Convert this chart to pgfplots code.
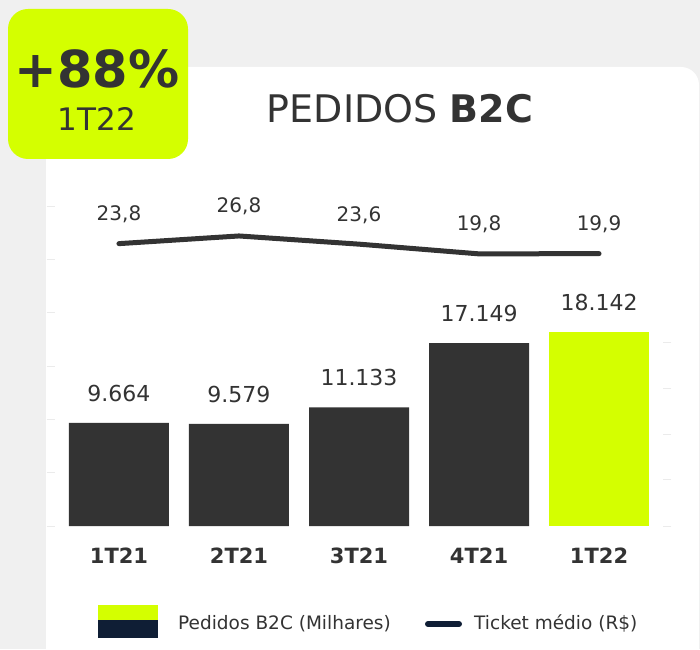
\documentclass[border=0pt]{standalone}
\usepackage{fontspec}
\setmainfont{DejaVu Sans}
\usepackage{pgfplots}
\pgfplotsset{compat=1.18}
\definecolor{lime}{HTML}{D4FF00}
\definecolor{dark}{HTML}{333333}
\definecolor{navy}{HTML}{0F1E35}
\definecolor{bg}{HTML}{F0F0F0}
\definecolor{stub}{HTML}{EBEBEB}
\begin{document}
\begin{tikzpicture}
\useasboundingbox (0pt,0pt) rectangle (700pt,649pt);
\begin{scope}[x=1pt,y=1pt]
\fill[bg] (0,0) rectangle (700,649);
\fill[white, rounded corners=18pt] (46,-30) rectangle (699,582);
% badge
\fill[lime, rounded corners=20pt] (8,490) rectangle (188,640);
\node[anchor=base, inner sep=0pt, text=dark, font=\fontsize{51}{51}\selectfont\bfseries] at (97,561) {+88\%};
\node[anchor=base, inner sep=0pt, text=dark, font=\fontsize{31}{31}\selectfont] at (97,518) {1T22};
% title
\node[anchor=base, inner sep=0pt, text=dark, font=\fontsize{38}{38}\selectfont] at (400,526) {PEDIDOS \textbf{B2C}};
\end{scope}

\begin{axis}[
  at={(55pt,123pt)}, anchor=south west, scale only axis,
  width=608pt, height=320pt,
  xmin=-0.533, xmax=4.533, ymin=0, ymax=30000,
  axis line style={draw=none},
  scaled y ticks=false,
  ytick={0,5000,...,30000}, yticklabels={}, ytick pos=left,
  y tick style={draw=stub, line width=1pt},
  tick align=outside, major tick length=8pt,
  xtick={0,1,2,3,4}, xticklabels={1T21,2T21,3T21,4T21,1T22},
  x tick style={draw=none},
  xticklabel style={font=\fontsize{21}{21}\selectfont\bfseries, text=dark, anchor=base, yshift=-29pt, inner sep=0pt},
  clip=false,
  point meta=explicit symbolic,
  nodes near coords,
  every node near coord/.append style={anchor=base, yshift=21.5pt, inner sep=0pt, text=dark, font=\fontsize{22}{22}\selectfont},
]
\addplot[ybar, bar width=100pt, bar shift=0pt, fill=dark, draw=none]
  coordinates {(0,9664)[9.664] (1,9579)[9.579] (2,11133)[11.133] (3,17149)[17.149]};
\addplot[ybar, bar width=100pt, bar shift=0pt, fill=lime, draw=none]
  coordinates {(4,18142)[18.142]};
\end{axis}

\begin{axis}[
  at={(55pt,123pt)}, anchor=south west, scale only axis,
  width=608pt, height=320pt,
  xmin=-0.533, xmax=4.533, ymin=-86.5, ymax=38.5,
  axis line style={draw=none},
  scaled y ticks=false,
  xtick=\empty,
  ytick={-86.5,-68.5,-50.6,-32.6,-14.7}, yticklabels={}, ytick pos=right,
  y tick style={draw=stub, line width=1pt},
  tick align=outside, major tick length=8pt,
  clip=false,
  point meta=explicit symbolic,
  nodes near coords,
  every node near coord/.append style={anchor=base, yshift=23pt, inner sep=0pt, text=dark, font=\fontsize{20}{20}\selectfont},
]
\addplot[dark, line width=5pt, line cap=round, line join=round]
  coordinates {(0,23.8)[23,8] (1,26.8)[26,8] (2,23.6)[23,6] (3,19.8)[19,8] (4,19.9)[19,9]};
\end{axis}

\begin{scope}[x=1pt,y=1pt]
% legend
\fill[lime] (98,29) rectangle (158,44);
\fill[navy] (98,11) rectangle (158,29);
\node[anchor=base west, inner sep=0pt, text=dark, font=\fontsize{18.5}{18.5}\selectfont] at (178,20) {Pedidos B2C (Milhares)};
\draw[navy, line width=6pt, line cap=round] (428,25) -- (459,25);
\node[anchor=base west, inner sep=0pt, text=dark, font=\fontsize{18.5}{18.5}\selectfont] at (474,20) {Ticket médio (R\$)};
\end{scope}
\end{tikzpicture}
\end{document}
